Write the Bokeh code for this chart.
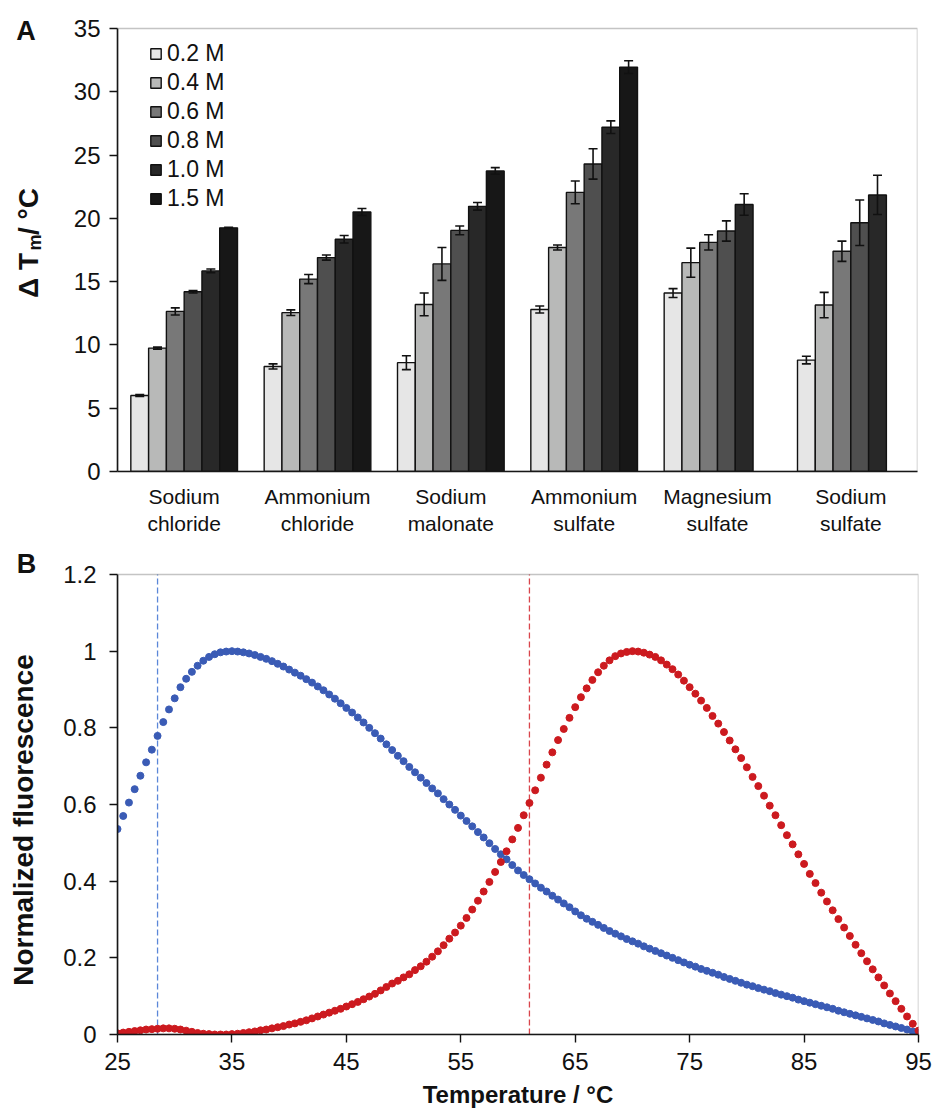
import math
from bokeh.plotting import figure
from bokeh.models import (ColumnDataSource, Whisker, TeeHead, Legend, LegendItem, BoxAnnotation,
                          FixedTicker, Range1d, NumeralTickFormatter)
from bokeh.core.properties import value
from bokeh.layouts import column, row
from bokeh.embed import file_html
from bokeh.resources import INLINE

NAN = float("nan")

# ---------------- Panel A data ----------------
salts = ["Sodium\nchloride", "Ammonium\nchloride", "Sodium\nmalonate",
         "Ammonium\nsulfate", "Magnesium\nsulfate", "Sodium\nsulfate"]
concentrations = ["0.2 M", "0.4 M", "0.6 M", "0.8 M", "1.0 M", "1.5 M"]

dtm_02 = [6.0, 8.3, 8.6, 12.8, 14.1, 8.8]
err_02 = [0.08, 0.2, 0.55, 0.28, 0.35, 0.3]
dtm_04 = [9.75, 12.55, 13.2, 17.7, 16.5, 13.15]
err_04 = [0.08, 0.22, 0.9, 0.2, 1.15, 1.0]
dtm_06 = [12.65, 15.2, 16.4, 22.05, 18.1, 17.4]
err_06 = [0.28, 0.36, 1.3, 0.9, 0.6, 0.8]
dtm_08 = [14.2, 16.9, 19.05, 24.3, 19.0, 19.65]
err_08 = [0.1, 0.2, 0.35, 1.2, 0.8, 1.8]
dtm_10 = [15.85, 18.35, 20.95, 27.2, 21.1, 21.85]
err_10 = [0.15, 0.3, 0.3, 0.5, 0.85, 1.55]
dtm_15 = [19.25, 20.5, 23.75, 31.95, NAN, NAN]
err_15 = [0.05, 0.28, 0.26, 0.5, NAN, NAN]

series_vals = [dtm_02, dtm_04, dtm_06, dtm_08, dtm_10, dtm_15]
series_errs = [err_02, err_04, err_06, err_08, err_10, err_15]
bar_colors = ["#e6e6e6", "#b8b9b8", "#787878", "#4f4f4f", "#282828", "#171717"]

y_ticks_A = [0, 5, 10, 15, 20, 25, 30, 35]

# ---------------- Panel B data ----------------
temperature = [
    25.0, 25.5, 26.0, 26.5, 27.0, 27.5, 28.0, 28.5, 29.0, 29.5,
    30.0, 30.5, 31.0, 31.5, 32.0, 32.5, 33.0, 33.5, 34.0, 34.5,
    35.0, 35.5, 36.0, 36.5, 37.0, 37.5, 38.0, 38.5, 39.0, 39.5,
    40.0, 40.5, 41.0, 41.5, 42.0, 42.5, 43.0, 43.5, 44.0, 44.5,
    45.0, 45.5, 46.0, 46.5, 47.0, 47.5, 48.0, 48.5, 49.0, 49.5,
    50.0, 50.5, 51.0, 51.5, 52.0, 52.5, 53.0, 53.5, 54.0, 54.5,
    55.0, 55.5, 56.0, 56.5, 57.0, 57.5, 58.0, 58.5, 59.0, 59.5,
    60.0, 60.5, 61.0, 61.5, 62.0, 62.5, 63.0, 63.5, 64.0, 64.5,
    65.0, 65.5, 66.0, 66.5, 67.0, 67.5, 68.0, 68.5, 69.0, 69.5,
    70.0, 70.5, 71.0, 71.5, 72.0, 72.5, 73.0, 73.5, 74.0, 74.5,
    75.0, 75.5, 76.0, 76.5, 77.0, 77.5, 78.0, 78.5, 79.0, 79.5,
    80.0, 80.5, 81.0, 81.5, 82.0, 82.5, 83.0, 83.5, 84.0, 84.5,
    85.0, 85.5, 86.0, 86.5, 87.0, 87.5, 88.0, 88.5, 89.0, 89.5,
    90.0, 90.5, 91.0, 91.5, 92.0, 92.5, 93.0, 93.5, 94.0, 94.5,
    95.0]

fluor_blue = [
    0.536, 0.570, 0.605, 0.640, 0.675, 0.710, 0.743, 0.779, 0.815, 0.848,
    0.877, 0.906, 0.928, 0.946, 0.962, 0.975, 0.985, 0.992, 0.997, 0.999,
    1.000, 0.999, 0.997, 0.994, 0.990, 0.985, 0.980, 0.974, 0.967, 0.960,
    0.952, 0.944, 0.936, 0.927, 0.918, 0.908, 0.898, 0.887, 0.876, 0.864,
    0.852, 0.840, 0.827, 0.814, 0.800, 0.786, 0.772, 0.757, 0.742, 0.727,
    0.713, 0.698, 0.684, 0.670, 0.656, 0.642, 0.629, 0.614, 0.600, 0.586,
    0.571, 0.557, 0.543, 0.528, 0.514, 0.499, 0.484, 0.470, 0.457, 0.442,
    0.428, 0.416, 0.405, 0.394, 0.383, 0.373, 0.362, 0.352, 0.342, 0.332,
    0.321, 0.311, 0.302, 0.294, 0.286, 0.278, 0.270, 0.263, 0.256, 0.249,
    0.243, 0.237, 0.230, 0.224, 0.218, 0.212, 0.206, 0.200, 0.194, 0.188,
    0.182, 0.177, 0.171, 0.166, 0.161, 0.156, 0.150, 0.145, 0.140, 0.135,
    0.130, 0.126, 0.121, 0.117, 0.113, 0.108, 0.104, 0.100, 0.096, 0.091,
    0.087, 0.083, 0.079, 0.075, 0.071, 0.067, 0.062, 0.058, 0.054, 0.050,
    0.046, 0.042, 0.038, 0.034, 0.029, 0.025, 0.021, 0.017, 0.013, 0.008,
    0.004]

fluor_red = [
    0.003, 0.005, 0.007, 0.009, 0.011, 0.013, 0.014, 0.015, 0.016, 0.016,
    0.015, 0.013, 0.010, 0.007, 0.004, 0.002, 0.001, 0.000, 0.000, 0.000,
    0.001, 0.002, 0.004, 0.006, 0.008, 0.011, 0.013, 0.016, 0.019, 0.022,
    0.026, 0.029, 0.033, 0.037, 0.042, 0.047, 0.052, 0.057, 0.062, 0.067,
    0.073, 0.079, 0.085, 0.092, 0.099, 0.106, 0.115, 0.124, 0.133, 0.140,
    0.149, 0.157, 0.168, 0.178, 0.190, 0.203, 0.217, 0.233, 0.250, 0.266,
    0.284, 0.304, 0.326, 0.349, 0.373, 0.398, 0.424, 0.450, 0.478, 0.509,
    0.539, 0.572, 0.604, 0.637, 0.670, 0.704, 0.736, 0.768, 0.797, 0.826,
    0.854, 0.880, 0.903, 0.925, 0.945, 0.962, 0.976, 0.987, 0.994, 0.998,
    1.000, 0.999, 0.996, 0.991, 0.985, 0.976, 0.965, 0.953, 0.939, 0.923,
    0.906, 0.889, 0.871, 0.852, 0.831, 0.811, 0.789, 0.767, 0.744, 0.721,
    0.697, 0.672, 0.648, 0.623, 0.597, 0.572, 0.546, 0.520, 0.496, 0.470,
    0.445, 0.419, 0.395, 0.370, 0.347, 0.324, 0.301, 0.279, 0.257, 0.234,
    0.212, 0.191, 0.170, 0.149, 0.128, 0.107, 0.087, 0.067, 0.047, 0.028,
    0.010]

tm_blue = 28.5
tm_red = 61.0
x_ticks_B = [25, 35, 45, 55, 65, 75, 85, 95]
y_ticks_B = [0, 0.2, 0.4, 0.6, 0.8, 1.0, 1.2]

FONT = "Liberation Sans"
TXT = "#111111"
FRAME = "#3a3a3a"
W = 935
LEFT_W = 60

# page layout (pixels)
HA = 538                     # panel A block height
A_TOP, A_BOT = 10, 67        # figure borders of panel A
A_AXIS_TOP = 28              # page y of the 35 line
HB = 1112 - HA               # panel B block height
B_TOP, B_BOT = 2, 78         # figure borders of panel B
B_AXIS_TOP = 574             # page y of the 1.2 line

rot = math.pi / 2


def side_panel(height, top, bottom, page_offset, width=LEFT_W):
    f_top = page_offset + top
    f_bot = page_offset + height - bottom
    s = figure(width=width, height=height, x_range=Range1d(0, width),
               y_range=Range1d(f_bot, f_top),
               output_backend="svg", toolbar_location=None, x_axis_type=None, y_axis_type=None,
               min_border_left=0, min_border_right=0, min_border_top=top, min_border_bottom=bottom)
    s.outline_line_color = None
    s.xgrid.visible = False
    s.ygrid.visible = False
    return s


def side_text(s, x, y, text, size, angle=0.0, align="center"):
    s.text(x=[x], y=[y], text=[text], angle=angle, text_align=align, text_baseline="middle",
           text_font=value(FONT), text_font_size=size, text_font_style="bold", text_color=TXT)


def style_axis(ax, label_size):
    ax.minor_tick_out = 0
    ax.minor_tick_in = 0
    ax.axis_line_width = 1.6
    ax.axis_line_color = "#111111"
    ax.major_tick_line_width = 1.4
    ax.major_tick_line_color = "#111111"
    ax.major_label_text_font = FONT
    ax.major_label_text_font_size = label_size
    ax.major_label_text_color = TXT


# ================= Panel A =================
a_frame_bot = HA - A_BOT
y_end_A = 35 * (a_frame_bot - A_TOP) / (a_frame_bot - A_AXIS_TOP)
pA = figure(width=W - LEFT_W, height=HA, x_range=Range1d(-0.5, 5.5), y_range=Range1d(0, y_end_A),
            output_backend="svg", toolbar_location=None,
            min_border_left=117 - LEFT_W, min_border_right=18,
            min_border_top=A_TOP, min_border_bottom=A_BOT)
pA.xgrid.visible = False
pA.ygrid.visible = False
pA.outline_line_color = None
pA.add_layout(BoxAnnotation(left=-0.5, right=5.5, bottom=0, top=35, fill_alpha=0,
                            line_color=FRAME, line_width=1.5))

n_series = len(concentrations)
group_w = 0.8
bar_w = group_w / n_series
legend_items = []
for j, (vals, errs, col, lab) in enumerate(zip(series_vals, series_errs, bar_colors, concentrations)):
    off = (j - (n_series - 1) / 2) * bar_w
    xs, tops, ups, lows = [], [], [], []
    for i, (v, e) in enumerate(zip(vals, errs)):
        if v == v:
            xs.append(i + off)
            tops.append(v)
            ups.append(v + e)
            lows.append(v - e)
    src = ColumnDataSource(dict(x=xs, top=tops, upper=ups, lower=lows))
    r = pA.vbar(x="x", top="top", width=bar_w, bottom=0, source=src,
                fill_color=col, line_color="#111111", line_width=1.4)
    w = Whisker(source=src, base="x", upper="upper", lower="lower",
                line_color="#111111", line_width=1.6,
                upper_head=TeeHead(size=9, line_color="#111111", line_width=1.6),
                lower_head=TeeHead(size=9, line_color="#111111", line_width=1.6))
    w.level = "overlay"
    pA.add_layout(w)
    legend_items.append(LegendItem(label=lab, renderers=[r]))

legA = Legend(items=legend_items, location=(32, 259), background_fill_alpha=0,
              border_line_alpha=0, label_text_font=FONT, label_text_font_size="23px",
              label_text_color=TXT, glyph_width=13, glyph_height=13, label_height=28,
              spacing=1, padding=0, margin=0, label_standoff=5)
pA.add_layout(legA)

pA.xaxis.ticker = FixedTicker(ticks=list(range(len(salts))))
pA.xaxis.major_label_overrides = {i: s for i, s in enumerate(salts)}
pA.xaxis.major_tick_out = 0
pA.xaxis.major_tick_in = 0
pA.xaxis.major_label_standoff = 13
pA.yaxis.ticker = FixedTicker(ticks=y_ticks_A)
pA.yaxis.bounds = (0, 35)
pA.yaxis.major_tick_out = 8
pA.yaxis.major_tick_in = 0
pA.yaxis.major_label_standoff = 9
style_axis(pA.xaxis[0], "21px")
style_axis(pA.yaxis[0], "24px")

sA = side_panel(HA, A_TOP, A_BOT, 0)
side_text(sA, 25.5, 30, "A", "27px")
side_text(sA, 28, 275, "Δ T", "28px", angle=rot)
side_text(sA, 34, 242, "m", "18px", angle=rot)
side_text(sA, 28, 211, "/ °C", "28px", angle=rot)

# ================= Panel B =================
b_frame_bot = HA + HB - B_BOT
y_end_B = 1.2 * (b_frame_bot - (HA + B_TOP)) / (b_frame_bot - B_AXIS_TOP)
pB = figure(width=W - LEFT_W, height=HB, x_range=Range1d(25, 95), y_range=Range1d(0, y_end_B),
            output_backend="svg", toolbar_location=None,
            min_border_left=117 - LEFT_W, min_border_right=17,
            min_border_top=B_TOP, min_border_bottom=B_BOT)
pB.xgrid.visible = False
pB.ygrid.visible = False
pB.outline_line_color = None
pB.add_layout(BoxAnnotation(left=25, right=95, bottom=0, top=1.2, fill_alpha=0,
                            line_color=FRAME, line_width=1.5))

# Tm marker lines, from 0 to the top of the axis
pB.segment(x0=[tm_blue], y0=[0], x1=[tm_blue], y1=[1.2], line_color="#5b87d8",
           line_dash="6 3", line_width=1.3)
pB.segment(x0=[tm_red], y0=[0], x1=[tm_red], y1=[1.2], line_color="#d9454b",
           line_dash="6 3", line_width=1.3)

srcB = ColumnDataSource(dict(t=temperature, blue=fluor_blue, red=fluor_red))
pB.scatter(x="t", y="blue", source=srcB, size=7, fill_color="#3a5bb5", line_color="#3a5bb5")
pB.scatter(x="t", y="red", source=srcB, size=7, fill_color="#cc1a1f", line_color="#cc1a1f")

pB.xaxis.ticker = FixedTicker(ticks=x_ticks_B)
pB.yaxis.ticker = FixedTicker(ticks=y_ticks_B)
pB.yaxis.bounds = (0, 1.2)
pB.yaxis.formatter = NumeralTickFormatter(format="0.[0]")
pB.xaxis.axis_label = "Temperature / °C"
pB.xaxis.major_label_standoff = 10
pB.yaxis.major_label_standoff = 13
pB.xaxis.axis_label_standoff = 8
for ax in (pB.xaxis[0], pB.yaxis[0]):
    ax.major_tick_out = 8
    ax.major_tick_in = 0
    style_axis(ax, "24px")
    ax.axis_label_text_font = FONT
    ax.axis_label_text_font_size = "24px"
    ax.axis_label_text_font_style = "bold"
    ax.axis_label_text_color = TXT

sB = side_panel(HB, B_TOP, B_BOT, HA)
side_text(sB, 26, 563, "B", "27px")
side_text(sB, 22.5, 819.5, "Normalized fluorescence", "28px", angle=rot)

layout = column(row(sA, pA, spacing=0), row(sB, pB, spacing=0), spacing=0)
open("out.html", "w").write(file_html(layout, INLINE))
